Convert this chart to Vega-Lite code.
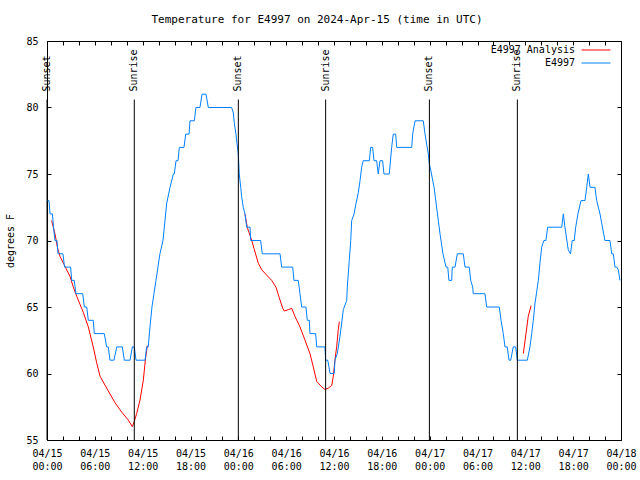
{
  "$schema": "https://vega.github.io/schema/vega-lite/v6.json",
  "width": 574,
  "height": 399,
  "autosize": "none",
  "padding": {"left": 47, "top": 41, "right": 19, "bottom": 40},
  "background": "white",
  "config": {
    "view": {"stroke": "black", "strokeWidth": 1},
    "font": "DejaVu Sans Mono",
    "axis": {"grid": false, "domain": false, "labelFont": "DejaVu Sans Mono", "labelFontSize": 10, "labelColor": "black", "tickColor": "black", "tickWidth": 1, "titleFont": "DejaVu Sans Mono", "titleFontSize": 10, "titleFontWeight": "normal", "titleColor": "black"}
  },
  "title": {"text": "Temperature for E4997 on 2024-Apr-15 (time in UTC)", "font": "DejaVu Sans Mono", "fontSize": 11, "fontWeight": "normal", "color": "black", "anchor": "middle", "dx": -17, "baseline": "bottom", "offset": -1},
  "datasets": {
    "analysis": [
      {"time": "2024-04-15T00:35:00Z", "temp": 71.5, "series": "E4997 Analysis", "seg": "a1"},
      {"time": "2024-04-15T01:00:00Z", "temp": 70.5, "series": "E4997 Analysis", "seg": "a1"},
      {"time": "2024-04-15T01:18:00Z", "temp": 69.5, "series": "E4997 Analysis", "seg": "a1"},
      {"time": "2024-04-15T01:38:00Z", "temp": 68.8, "series": "E4997 Analysis", "seg": "a1"},
      {"time": "2024-04-15T02:08:00Z", "temp": 68.2, "series": "E4997 Analysis", "seg": "a1"},
      {"time": "2024-04-15T02:53:00Z", "temp": 67.3, "series": "E4997 Analysis", "seg": "a1"},
      {"time": "2024-04-15T03:18:00Z", "temp": 66.5, "series": "E4997 Analysis", "seg": "a1"},
      {"time": "2024-04-15T03:44:00Z", "temp": 65.8, "series": "E4997 Analysis", "seg": "a1"},
      {"time": "2024-04-15T04:33:00Z", "temp": 64.6, "series": "E4997 Analysis", "seg": "a1"},
      {"time": "2024-04-15T05:11:00Z", "temp": 63.5, "series": "E4997 Analysis", "seg": "a1"},
      {"time": "2024-04-15T05:48:00Z", "temp": 62.0, "series": "E4997 Analysis", "seg": "a1"},
      {"time": "2024-04-15T06:14:00Z", "temp": 60.8, "series": "E4997 Analysis", "seg": "a1"},
      {"time": "2024-04-15T06:39:00Z", "temp": 59.8, "series": "E4997 Analysis", "seg": "a1"},
      {"time": "2024-04-15T07:29:00Z", "temp": 58.9, "series": "E4997 Analysis", "seg": "a1"},
      {"time": "2024-04-15T08:32:00Z", "temp": 57.8, "series": "E4997 Analysis", "seg": "a1"},
      {"time": "2024-04-15T09:22:00Z", "temp": 57.1, "series": "E4997 Analysis", "seg": "a1"},
      {"time": "2024-04-15T10:12:00Z", "temp": 56.5, "series": "E4997 Analysis", "seg": "a1"},
      {"time": "2024-04-15T10:42:00Z", "temp": 56.0, "series": "E4997 Analysis", "seg": "a1"},
      {"time": "2024-04-15T10:57:00Z", "temp": 56.4, "series": "E4997 Analysis", "seg": "a1"},
      {"time": "2024-04-15T11:15:00Z", "temp": 57.0, "series": "E4997 Analysis", "seg": "a1"},
      {"time": "2024-04-15T11:40:00Z", "temp": 58.0, "series": "E4997 Analysis", "seg": "a1"},
      {"time": "2024-04-15T12:05:00Z", "temp": 59.5, "series": "E4997 Analysis", "seg": "a1"},
      {"time": "2024-04-15T12:20:00Z", "temp": 61.0, "series": "E4997 Analysis", "seg": "a1"},
      {"time": "2024-04-15T12:35:00Z", "temp": 62.1, "series": "E4997 Analysis", "seg": "a1"},
      {"time": "2024-04-16T00:50:00Z", "temp": 72.0, "series": "E4997 Analysis", "seg": "a2"},
      {"time": "2024-04-16T01:07:00Z", "temp": 71.0, "series": "E4997 Analysis", "seg": "a2"},
      {"time": "2024-04-16T01:41:00Z", "temp": 70.0, "series": "E4997 Analysis", "seg": "a2"},
      {"time": "2024-04-16T01:58:00Z", "temp": 69.4, "series": "E4997 Analysis", "seg": "a2"},
      {"time": "2024-04-16T02:30:00Z", "temp": 68.3, "series": "E4997 Analysis", "seg": "a2"},
      {"time": "2024-04-16T02:56:00Z", "temp": 67.8, "series": "E4997 Analysis", "seg": "a2"},
      {"time": "2024-04-16T03:33:00Z", "temp": 67.4, "series": "E4997 Analysis", "seg": "a2"},
      {"time": "2024-04-16T04:11:00Z", "temp": 67.0, "series": "E4997 Analysis", "seg": "a2"},
      {"time": "2024-04-16T04:43:00Z", "temp": 66.5, "series": "E4997 Analysis", "seg": "a2"},
      {"time": "2024-04-16T05:08:00Z", "temp": 65.7, "series": "E4997 Analysis", "seg": "a2"},
      {"time": "2024-04-16T05:34:00Z", "temp": 64.9, "series": "E4997 Analysis", "seg": "a2"},
      {"time": "2024-04-16T05:46:00Z", "temp": 64.7, "series": "E4997 Analysis", "seg": "a2"},
      {"time": "2024-04-16T06:16:00Z", "temp": 64.8, "series": "E4997 Analysis", "seg": "a2"},
      {"time": "2024-04-16T06:42:00Z", "temp": 64.9, "series": "E4997 Analysis", "seg": "a2"},
      {"time": "2024-04-16T07:06:00Z", "temp": 64.3, "series": "E4997 Analysis", "seg": "a2"},
      {"time": "2024-04-16T07:44:00Z", "temp": 63.5, "series": "E4997 Analysis", "seg": "a2"},
      {"time": "2024-04-16T08:22:00Z", "temp": 62.5, "series": "E4997 Analysis", "seg": "a2"},
      {"time": "2024-04-16T08:59:00Z", "temp": 61.5, "series": "E4997 Analysis", "seg": "a2"},
      {"time": "2024-04-16T09:24:00Z", "temp": 60.5, "series": "E4997 Analysis", "seg": "a2"},
      {"time": "2024-04-16T09:50:00Z", "temp": 59.4, "series": "E4997 Analysis", "seg": "a2"},
      {"time": "2024-04-16T10:27:00Z", "temp": 59.0, "series": "E4997 Analysis", "seg": "a2"},
      {"time": "2024-04-16T10:52:00Z", "temp": 58.8, "series": "E4997 Analysis", "seg": "a2"},
      {"time": "2024-04-16T11:17:00Z", "temp": 58.9, "series": "E4997 Analysis", "seg": "a2"},
      {"time": "2024-04-16T11:43:00Z", "temp": 59.1, "series": "E4997 Analysis", "seg": "a2"},
      {"time": "2024-04-16T11:55:00Z", "temp": 59.8, "series": "E4997 Analysis", "seg": "a2"},
      {"time": "2024-04-16T12:07:00Z", "temp": 61.0, "series": "E4997 Analysis", "seg": "a2"},
      {"time": "2024-04-16T12:20:00Z", "temp": 62.0, "series": "E4997 Analysis", "seg": "a2"},
      {"time": "2024-04-16T12:32:00Z", "temp": 63.3, "series": "E4997 Analysis", "seg": "a2"},
      {"time": "2024-04-16T12:40:00Z", "temp": 63.9, "series": "E4997 Analysis", "seg": "a2"},
      {"time": "2024-04-17T11:45:00Z", "temp": 61.5, "series": "E4997 Analysis", "seg": "a3"},
      {"time": "2024-04-17T12:05:00Z", "temp": 63.0, "series": "E4997 Analysis", "seg": "a3"},
      {"time": "2024-04-17T12:22:00Z", "temp": 64.3, "series": "E4997 Analysis", "seg": "a3"},
      {"time": "2024-04-17T12:43:00Z", "temp": 65.1, "series": "E4997 Analysis", "seg": "a3"}
    ],
    "obs": [
      {"time": "2024-04-15T00:00:00Z", "temp": 73, "series": "E4997"},
      {"time": "2024-04-15T00:15:00Z", "temp": 73, "series": "E4997"},
      {"time": "2024-04-15T00:23:00Z", "temp": 72, "series": "E4997"},
      {"time": "2024-04-15T00:41:00Z", "temp": 72, "series": "E4997"},
      {"time": "2024-04-15T00:49:00Z", "temp": 71, "series": "E4997"},
      {"time": "2024-04-15T01:00:00Z", "temp": 70, "series": "E4997"},
      {"time": "2024-04-15T01:15:00Z", "temp": 70, "series": "E4997"},
      {"time": "2024-04-15T01:23:00Z", "temp": 69, "series": "E4997"},
      {"time": "2024-04-15T02:00:00Z", "temp": 69, "series": "E4997"},
      {"time": "2024-04-15T02:12:00Z", "temp": 68, "series": "E4997"},
      {"time": "2024-04-15T02:58:00Z", "temp": 68, "series": "E4997"},
      {"time": "2024-04-15T03:06:00Z", "temp": 67, "series": "E4997"},
      {"time": "2024-04-15T03:25:00Z", "temp": 67, "series": "E4997"},
      {"time": "2024-04-15T03:38:00Z", "temp": 66, "series": "E4997"},
      {"time": "2024-04-15T04:29:00Z", "temp": 66, "series": "E4997"},
      {"time": "2024-04-15T04:41:00Z", "temp": 65, "series": "E4997"},
      {"time": "2024-04-15T04:59:00Z", "temp": 65, "series": "E4997"},
      {"time": "2024-04-15T05:11:00Z", "temp": 64, "series": "E4997"},
      {"time": "2024-04-15T05:48:00Z", "temp": 64, "series": "E4997"},
      {"time": "2024-04-15T05:56:00Z", "temp": 63, "series": "E4997"},
      {"time": "2024-04-15T07:11:00Z", "temp": 63, "series": "E4997"},
      {"time": "2024-04-15T07:29:00Z", "temp": 62, "series": "E4997"},
      {"time": "2024-04-15T07:41:00Z", "temp": 62, "series": "E4997"},
      {"time": "2024-04-15T07:54:00Z", "temp": 61, "series": "E4997"},
      {"time": "2024-04-15T08:24:00Z", "temp": 61, "series": "E4997"},
      {"time": "2024-04-15T08:45:00Z", "temp": 62, "series": "E4997"},
      {"time": "2024-04-15T09:27:00Z", "temp": 62, "series": "E4997"},
      {"time": "2024-04-15T09:42:00Z", "temp": 61, "series": "E4997"},
      {"time": "2024-04-15T10:25:00Z", "temp": 61, "series": "E4997"},
      {"time": "2024-04-15T10:42:00Z", "temp": 62, "series": "E4997"},
      {"time": "2024-04-15T10:57:00Z", "temp": 62, "series": "E4997"},
      {"time": "2024-04-15T11:10:00Z", "temp": 61, "series": "E4997"},
      {"time": "2024-04-15T12:18:00Z", "temp": 61, "series": "E4997"},
      {"time": "2024-04-15T12:30:00Z", "temp": 62, "series": "E4997"},
      {"time": "2024-04-15T12:42:00Z", "temp": 62, "series": "E4997"},
      {"time": "2024-04-15T12:55:00Z", "temp": 63.5, "series": "E4997"},
      {"time": "2024-04-15T13:10:00Z", "temp": 65, "series": "E4997"},
      {"time": "2024-04-15T13:25:00Z", "temp": 66, "series": "E4997"},
      {"time": "2024-04-15T13:40:00Z", "temp": 67, "series": "E4997"},
      {"time": "2024-04-15T13:55:00Z", "temp": 68, "series": "E4997"},
      {"time": "2024-04-15T14:10:00Z", "temp": 69, "series": "E4997"},
      {"time": "2024-04-15T14:33:00Z", "temp": 70, "series": "E4997"},
      {"time": "2024-04-15T15:01:00Z", "temp": 72.8, "series": "E4997"},
      {"time": "2024-04-15T15:26:00Z", "temp": 74, "series": "E4997"},
      {"time": "2024-04-15T15:51:00Z", "temp": 75, "series": "E4997"},
      {"time": "2024-04-15T15:58:00Z", "temp": 75, "series": "E4997"},
      {"time": "2024-04-15T16:11:00Z", "temp": 76, "series": "E4997"},
      {"time": "2024-04-15T16:26:00Z", "temp": 76, "series": "E4997"},
      {"time": "2024-04-15T16:36:00Z", "temp": 77, "series": "E4997"},
      {"time": "2024-04-15T17:11:00Z", "temp": 77, "series": "E4997"},
      {"time": "2024-04-15T17:24:00Z", "temp": 78, "series": "E4997"},
      {"time": "2024-04-15T17:49:00Z", "temp": 78, "series": "E4997"},
      {"time": "2024-04-15T17:56:00Z", "temp": 79, "series": "E4997"},
      {"time": "2024-04-15T18:29:00Z", "temp": 79, "series": "E4997"},
      {"time": "2024-04-15T18:41:00Z", "temp": 80, "series": "E4997"},
      {"time": "2024-04-15T19:11:00Z", "temp": 80, "series": "E4997"},
      {"time": "2024-04-15T19:27:00Z", "temp": 81, "series": "E4997"},
      {"time": "2024-04-15T19:57:00Z", "temp": 81, "series": "E4997"},
      {"time": "2024-04-15T20:14:00Z", "temp": 80, "series": "E4997"},
      {"time": "2024-04-15T23:10:00Z", "temp": 80, "series": "E4997"},
      {"time": "2024-04-15T23:22:00Z", "temp": 79.6, "series": "E4997"},
      {"time": "2024-04-15T23:30:00Z", "temp": 78.8, "series": "E4997"},
      {"time": "2024-04-15T23:42:00Z", "temp": 78, "series": "E4997"},
      {"time": "2024-04-15T23:50:00Z", "temp": 77.3, "series": "E4997"},
      {"time": "2024-04-16T00:00:00Z", "temp": 76.5, "series": "E4997"},
      {"time": "2024-04-16T00:07:00Z", "temp": 75, "series": "E4997"},
      {"time": "2024-04-16T00:18:00Z", "temp": 74, "series": "E4997"},
      {"time": "2024-04-16T00:25:00Z", "temp": 73.3, "series": "E4997"},
      {"time": "2024-04-16T00:37:00Z", "temp": 72.5, "series": "E4997"},
      {"time": "2024-04-16T00:50:00Z", "temp": 72, "series": "E4997"},
      {"time": "2024-04-16T01:03:00Z", "temp": 71, "series": "E4997"},
      {"time": "2024-04-16T01:28:00Z", "temp": 71, "series": "E4997"},
      {"time": "2024-04-16T01:33:00Z", "temp": 70, "series": "E4997"},
      {"time": "2024-04-16T02:48:00Z", "temp": 70, "series": "E4997"},
      {"time": "2024-04-16T03:00:00Z", "temp": 69, "series": "E4997"},
      {"time": "2024-04-16T05:14:00Z", "temp": 69, "series": "E4997"},
      {"time": "2024-04-16T05:26:00Z", "temp": 68, "series": "E4997"},
      {"time": "2024-04-16T06:49:00Z", "temp": 68, "series": "E4997"},
      {"time": "2024-04-16T06:59:00Z", "temp": 67, "series": "E4997"},
      {"time": "2024-04-16T07:31:00Z", "temp": 67, "series": "E4997"},
      {"time": "2024-04-16T07:44:00Z", "temp": 66, "series": "E4997"},
      {"time": "2024-04-16T07:57:00Z", "temp": 65, "series": "E4997"},
      {"time": "2024-04-16T08:29:00Z", "temp": 65, "series": "E4997"},
      {"time": "2024-04-16T08:39:00Z", "temp": 64, "series": "E4997"},
      {"time": "2024-04-16T08:54:00Z", "temp": 64, "series": "E4997"},
      {"time": "2024-04-16T08:59:00Z", "temp": 63, "series": "E4997"},
      {"time": "2024-04-16T09:42:00Z", "temp": 63, "series": "E4997"},
      {"time": "2024-04-16T09:50:00Z", "temp": 62, "series": "E4997"},
      {"time": "2024-04-16T10:52:00Z", "temp": 62, "series": "E4997"},
      {"time": "2024-04-16T10:57:00Z", "temp": 61, "series": "E4997"},
      {"time": "2024-04-16T11:13:00Z", "temp": 61, "series": "E4997"},
      {"time": "2024-04-16T11:22:00Z", "temp": 60.5, "series": "E4997"},
      {"time": "2024-04-16T11:30:00Z", "temp": 60, "series": "E4997"},
      {"time": "2024-04-16T12:02:00Z", "temp": 60, "series": "E4997"},
      {"time": "2024-04-16T12:07:00Z", "temp": 61, "series": "E4997"},
      {"time": "2024-04-16T12:25:00Z", "temp": 61.5, "series": "E4997"},
      {"time": "2024-04-16T12:45:00Z", "temp": 62.8, "series": "E4997"},
      {"time": "2024-04-16T12:58:00Z", "temp": 63.8, "series": "E4997"},
      {"time": "2024-04-16T13:10:00Z", "temp": 64.8, "series": "E4997"},
      {"time": "2024-04-16T13:36:00Z", "temp": 65.5, "series": "E4997"},
      {"time": "2024-04-16T13:40:00Z", "temp": 66.5, "series": "E4997"},
      {"time": "2024-04-16T13:55:00Z", "temp": 68.5, "series": "E4997"},
      {"time": "2024-04-16T14:06:00Z", "temp": 70, "series": "E4997"},
      {"time": "2024-04-16T14:13:00Z", "temp": 71.5, "series": "E4997"},
      {"time": "2024-04-16T14:31:00Z", "temp": 72, "series": "E4997"},
      {"time": "2024-04-16T14:46:00Z", "temp": 72.8, "series": "E4997"},
      {"time": "2024-04-16T15:03:00Z", "temp": 73.6, "series": "E4997"},
      {"time": "2024-04-16T15:16:00Z", "temp": 74.5, "series": "E4997"},
      {"time": "2024-04-16T15:28:00Z", "temp": 75.5, "series": "E4997"},
      {"time": "2024-04-16T15:40:00Z", "temp": 76, "series": "E4997"},
      {"time": "2024-04-16T16:26:00Z", "temp": 76, "series": "E4997"},
      {"time": "2024-04-16T16:36:00Z", "temp": 77, "series": "E4997"},
      {"time": "2024-04-16T16:51:00Z", "temp": 77, "series": "E4997"},
      {"time": "2024-04-16T17:01:00Z", "temp": 76, "series": "E4997"},
      {"time": "2024-04-16T17:21:00Z", "temp": 76, "series": "E4997"},
      {"time": "2024-04-16T17:33:00Z", "temp": 75, "series": "E4997"},
      {"time": "2024-04-16T17:46:00Z", "temp": 76, "series": "E4997"},
      {"time": "2024-04-16T18:06:00Z", "temp": 76, "series": "E4997"},
      {"time": "2024-04-16T18:16:00Z", "temp": 75, "series": "E4997"},
      {"time": "2024-04-16T18:56:00Z", "temp": 75, "series": "E4997"},
      {"time": "2024-04-16T19:14:00Z", "temp": 77, "series": "E4997"},
      {"time": "2024-04-16T19:26:00Z", "temp": 78, "series": "E4997"},
      {"time": "2024-04-16T19:44:00Z", "temp": 78, "series": "E4997"},
      {"time": "2024-04-16T19:52:00Z", "temp": 77, "series": "E4997"},
      {"time": "2024-04-16T21:45:00Z", "temp": 77, "series": "E4997"},
      {"time": "2024-04-16T21:52:00Z", "temp": 78, "series": "E4997"},
      {"time": "2024-04-16T22:10:00Z", "temp": 79, "series": "E4997"},
      {"time": "2024-04-16T23:12:00Z", "temp": 79, "series": "E4997"},
      {"time": "2024-04-16T23:25:00Z", "temp": 78, "series": "E4997"},
      {"time": "2024-04-16T23:50:00Z", "temp": 76.5, "series": "E4997"},
      {"time": "2024-04-16T23:57:00Z", "temp": 75.8, "series": "E4997"},
      {"time": "2024-04-17T00:08:00Z", "temp": 75.3, "series": "E4997"},
      {"time": "2024-04-17T00:33:00Z", "temp": 74, "series": "E4997"},
      {"time": "2024-04-17T01:05:00Z", "temp": 71.5, "series": "E4997"},
      {"time": "2024-04-17T01:18:00Z", "temp": 70.5, "series": "E4997"},
      {"time": "2024-04-17T01:40:00Z", "temp": 69, "series": "E4997"},
      {"time": "2024-04-17T02:03:00Z", "temp": 68, "series": "E4997"},
      {"time": "2024-04-17T02:16:00Z", "temp": 68, "series": "E4997"},
      {"time": "2024-04-17T02:25:00Z", "temp": 67, "series": "E4997"},
      {"time": "2024-04-17T02:46:00Z", "temp": 67, "series": "E4997"},
      {"time": "2024-04-17T02:50:00Z", "temp": 68, "series": "E4997"},
      {"time": "2024-04-17T03:11:00Z", "temp": 68, "series": "E4997"},
      {"time": "2024-04-17T03:28:00Z", "temp": 69, "series": "E4997"},
      {"time": "2024-04-17T04:13:00Z", "temp": 69, "series": "E4997"},
      {"time": "2024-04-17T04:26:00Z", "temp": 68, "series": "E4997"},
      {"time": "2024-04-17T04:58:00Z", "temp": 68, "series": "E4997"},
      {"time": "2024-04-17T05:09:00Z", "temp": 67, "series": "E4997"},
      {"time": "2024-04-17T05:24:00Z", "temp": 66.5, "series": "E4997"},
      {"time": "2024-04-17T05:28:00Z", "temp": 66, "series": "E4997"},
      {"time": "2024-04-17T06:56:00Z", "temp": 66, "series": "E4997"},
      {"time": "2024-04-17T07:09:00Z", "temp": 65, "series": "E4997"},
      {"time": "2024-04-17T08:44:00Z", "temp": 65, "series": "E4997"},
      {"time": "2024-04-17T08:57:00Z", "temp": 64, "series": "E4997"},
      {"time": "2024-04-17T09:14:00Z", "temp": 63, "series": "E4997"},
      {"time": "2024-04-17T09:27:00Z", "temp": 62, "series": "E4997"},
      {"time": "2024-04-17T09:44:00Z", "temp": 62, "series": "E4997"},
      {"time": "2024-04-17T09:57:00Z", "temp": 61, "series": "E4997"},
      {"time": "2024-04-17T10:10:00Z", "temp": 61, "series": "E4997"},
      {"time": "2024-04-17T10:29:00Z", "temp": 62, "series": "E4997"},
      {"time": "2024-04-17T10:47:00Z", "temp": 62, "series": "E4997"},
      {"time": "2024-04-17T11:00:00Z", "temp": 61, "series": "E4997"},
      {"time": "2024-04-17T12:15:00Z", "temp": 61, "series": "E4997"},
      {"time": "2024-04-17T12:35:00Z", "temp": 62, "series": "E4997"},
      {"time": "2024-04-17T12:48:00Z", "temp": 63, "series": "E4997"},
      {"time": "2024-04-17T13:00:00Z", "temp": 64, "series": "E4997"},
      {"time": "2024-04-17T13:13:00Z", "temp": 65.3, "series": "E4997"},
      {"time": "2024-04-17T13:38:00Z", "temp": 67, "series": "E4997"},
      {"time": "2024-04-17T13:50:00Z", "temp": 68.3, "series": "E4997"},
      {"time": "2024-04-17T14:03:00Z", "temp": 69.5, "series": "E4997"},
      {"time": "2024-04-17T14:20:00Z", "temp": 70, "series": "E4997"},
      {"time": "2024-04-17T14:35:00Z", "temp": 70, "series": "E4997"},
      {"time": "2024-04-17T14:48:00Z", "temp": 71, "series": "E4997"},
      {"time": "2024-04-17T16:34:00Z", "temp": 71, "series": "E4997"},
      {"time": "2024-04-17T16:46:00Z", "temp": 72, "series": "E4997"},
      {"time": "2024-04-17T16:58:00Z", "temp": 71, "series": "E4997"},
      {"time": "2024-04-17T17:23:00Z", "temp": 69.3, "series": "E4997"},
      {"time": "2024-04-17T17:40:00Z", "temp": 69, "series": "E4997"},
      {"time": "2024-04-17T17:53:00Z", "temp": 70, "series": "E4997"},
      {"time": "2024-04-17T18:08:00Z", "temp": 70, "series": "E4997"},
      {"time": "2024-04-17T18:19:00Z", "temp": 71, "series": "E4997"},
      {"time": "2024-04-17T18:36:00Z", "temp": 72, "series": "E4997"},
      {"time": "2024-04-17T18:59:00Z", "temp": 73, "series": "E4997"},
      {"time": "2024-04-17T19:29:00Z", "temp": 73, "series": "E4997"},
      {"time": "2024-04-17T19:42:00Z", "temp": 74, "series": "E4997"},
      {"time": "2024-04-17T19:54:00Z", "temp": 75, "series": "E4997"},
      {"time": "2024-04-17T20:07:00Z", "temp": 74, "series": "E4997"},
      {"time": "2024-04-17T20:44:00Z", "temp": 74, "series": "E4997"},
      {"time": "2024-04-17T20:57:00Z", "temp": 73, "series": "E4997"},
      {"time": "2024-04-17T21:22:00Z", "temp": 72, "series": "E4997"},
      {"time": "2024-04-17T21:35:00Z", "temp": 71.3, "series": "E4997"},
      {"time": "2024-04-17T21:59:00Z", "temp": 70, "series": "E4997"},
      {"time": "2024-04-17T22:37:00Z", "temp": 70, "series": "E4997"},
      {"time": "2024-04-17T22:50:00Z", "temp": 69, "series": "E4997"},
      {"time": "2024-04-17T23:02:00Z", "temp": 69, "series": "E4997"},
      {"time": "2024-04-17T23:15:00Z", "temp": 68, "series": "E4997"},
      {"time": "2024-04-17T23:28:00Z", "temp": 68, "series": "E4997"},
      {"time": "2024-04-17T23:40:00Z", "temp": 67.8, "series": "E4997"},
      {"time": "2024-04-17T23:52:00Z", "temp": 67, "series": "E4997"}
    ],
    "sun": [
      {"time": "2024-04-15T00:00:00Z", "event": "Sunset"},
      {"time": "2024-04-15T10:57:00Z", "event": "Sunrise"},
      {"time": "2024-04-16T00:00:00Z", "event": "Sunset"},
      {"time": "2024-04-16T10:57:00Z", "event": "Sunrise"},
      {"time": "2024-04-16T23:58:00Z", "event": "Sunset"},
      {"time": "2024-04-17T11:00:00Z", "event": "Sunrise"}
    ]
  },
  "layer": [
    {
      "data": {"name": "analysis"},
      "mark": {"type": "line", "strokeWidth": 1},
      "encoding": {
        "x": {
          "field": "time", "type": "temporal",
          "scale": {"type": "utc", "domain": [1713139200000, 1713398400000]},
          "axis": {"orient": "bottom", "offset": -4, "tickSize": 4, "values": [1713139200000, 1713146400000, 1713153600000, 1713160800000, 1713168000000, 1713175200000, 1713182400000, 1713189600000, 1713196800000, 1713204000000, 1713211200000, 1713218400000, 1713225600000, 1713232800000, 1713240000000, 1713247200000, 1713254400000, 1713261600000, 1713268800000, 1713276000000, 1713283200000, 1713290400000, 1713297600000, 1713304800000, 1713312000000, 1713319200000, 1713326400000, 1713333600000, 1713340800000, 1713348000000, 1713355200000, 1713362400000, 1713369600000, 1713376800000, 1713384000000, 1713391200000, 1713398400000], "labelExpr": "utchours(datum.value) % 6 == 0 ? [utcFormat(datum.value, '%m/%d'), utcFormat(datum.value, '%H:%M')] : ''", "labelPadding": 8, "labelBaseline": "top", "labelLineHeight": 13.5, "labelFlush": false, "labelOverlap": false, "title": null}
        },
        "y": {
          "field": "temp", "type": "quantitative",
          "scale": {"domain": [55, 85], "nice": false, "zero": false},
          "axis": {"orient": "left", "offset": -4, "tickSize": 4, "values": [55, 60, 65, 70, 75, 80, 85], "labelPadding": 9, "title": "degrees F", "titlePadding": 10}
        },
        "color": {
          "field": "series", "type": "nominal",
          "scale": {"domain": ["E4997 Analysis"], "range": ["#ff0000"]},
          "legend": {"orient": "none", "legendX": 534, "legendY": -6, "title": null, "symbolType": "stroke", "symbolSize": 841, "symbolStrokeWidth": 1, "padding": 0, "labelAlign": "right", "labelOffset": -36, "labelFont": "DejaVu Sans Mono", "labelFontSize": 10, "labelColor": "black"}
        },
        "detail": {"field": "seg"}
      }
    },
    {
      "data": {"name": "obs"},
      "mark": {"type": "line", "strokeWidth": 1},
      "encoding": {
        "x": {
          "field": "time", "type": "temporal",
          "axis": {"orient": "top", "offset": -4, "tickSize": 4, "values": [1713139200000, 1713146400000, 1713153600000, 1713160800000, 1713168000000, 1713175200000, 1713182400000, 1713189600000, 1713196800000, 1713204000000, 1713211200000, 1713218400000, 1713225600000, 1713232800000, 1713240000000, 1713247200000, 1713254400000, 1713261600000, 1713268800000, 1713276000000, 1713283200000, 1713290400000, 1713297600000, 1713304800000, 1713312000000, 1713319200000, 1713326400000, 1713333600000, 1713340800000, 1713348000000, 1713355200000, 1713362400000, 1713369600000, 1713376800000, 1713384000000, 1713391200000, 1713398400000], "labels": false, "title": null}
        },
        "y": {
          "field": "temp", "type": "quantitative",
          "axis": {"orient": "right", "offset": -4, "tickSize": 4, "values": [55, 60, 65, 70, 75, 80, 85], "labels": false, "title": null}
        },
        "stroke": {
          "field": "series", "type": "nominal",
          "scale": {"domain": ["E4997"], "range": ["#0080ff"]},
          "legend": {"orient": "none", "legendX": 534, "legendY": 7, "title": null, "symbolType": "stroke", "symbolSize": 841, "symbolStrokeWidth": 1, "padding": 0, "labelAlign": "right", "labelOffset": -36, "labelFont": "DejaVu Sans Mono", "labelFontSize": 10, "labelColor": "black"}
        }
      }
    },
    {
      "data": {"name": "sun"},
      "mark": {"type": "rule", "color": "black", "strokeWidth": 1},
      "encoding": {
        "x": {"field": "time", "type": "temporal", "axis": null},
        "y": {"datum": 55, "axis": null},
        "y2": {"datum": 80.6}
      }
    },
    {
      "data": {"name": "sun"},
      "mark": {"type": "text", "angle": 270, "align": "left", "baseline": "middle", "font": "DejaVu Sans Mono", "fontSize": 10, "color": "black"},
      "encoding": {
        "x": {"field": "time", "type": "temporal", "axis": null},
        "y": {"datum": 81.2, "axis": null},
        "text": {"field": "event"}
      }
    }
  ],
  "resolve": {"axis": {"x": "independent", "y": "independent"}}
}
